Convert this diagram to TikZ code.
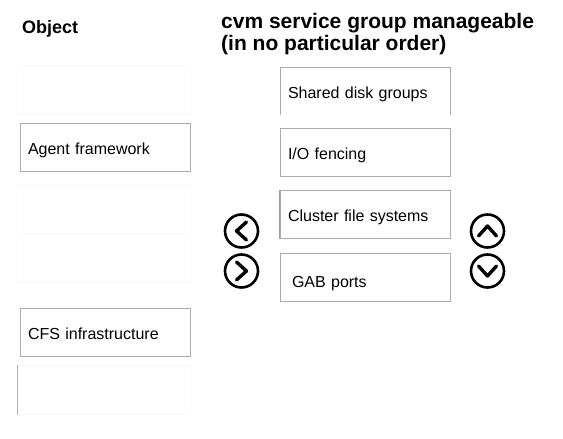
\documentclass[tikz,border=0pt]{standalone}
\usepackage{fontspec}
\setmainfont{Liberation Sans}
\usetikzlibrary{positioning}

\begin{document}
\begin{tikzpicture}[x=1pt,y=-1pt]
                      \tikzstyle{slot}=[draw=gray!65,minimum width=170pt,minimum height=48pt,text width=154pt,inner xsep=8pt,inner ysep=0pt,align=left,text height=14pt,text depth=0pt,font=\fontsize{16}{19}\selectfont]
                      \tikzstyle{ghost}=[draw=black!2,minimum width=173pt,minimum height=49pt,inner sep=0pt]
                      \tikzstyle{btn}=[circle,draw=black,line width=2.6pt,minimum size=33pt,inner sep=0pt]
                      \tikzstyle{chev}=[line width=3.4pt,line cap=round,line join=round]
                      \useasboundingbox (0,0) rectangle (563,439);
                      % headings
                      \node[anchor=base west,inner sep=0pt,font=\bfseries\fontsize{18}{21}\selectfont] (obj) at (22,33) {Object};
                      \node[anchor=base west,inner sep=0pt,font=\bfseries\fontsize{21}{22}\selectfont] (head1) at (221,28) {cvm service group manageable};
                      \node[anchor=base west,inner sep=0pt,font=\bfseries\fontsize{21}{22}\selectfont] (head2) at (221,50) {(in no particular order)};
                      % left column
                      \node[ghost] (g1) at (103.5,90) {};
                      \node[slot] (agent) at (105,147) {Agent framework};
                      \node[ghost] (g2) at (103.5,209) {};
                      \node[ghost] (g3) at (103.5,258) {};
                      \node[slot] (cfs) at (105,332) {CFS infrastructure};
                      \node[ghost] (g4) at (103.5,390) {};
                      \draw[gray!60] (g4.north west) -- (g4.south west);
                      % right column
                      \node[slot,draw=none] (shared) at (365,91) {Shared disk groups};
                      \draw[gray!65] (shared.south west) -- (shared.north west) -- (shared.north east) -- (shared.south east);
                      \node[slot] (fence) at (365,152) {I/O fencing};
                      \node[slot] (cluster) at (365,214.5) {Cluster file systems};
                      \draw[gray!75,line width=1pt] (cluster.north west) -- (cluster.south west);
                      \node[slot] (gab) at (365,277) {\hspace*{4pt}\raisebox{-3pt}{GAB ports}};
                      % buttons
                      \node[btn] (left) at (241.5,231) {};
                      \node[btn] (right) at (241.5,271) {};
                      \node[btn] (up) at (487.5,231) {};
                      \node[btn] (down) at (487.5,271) {};
                      \draw[chev] ([shift={(5,-9)}]left.center) -- ([shift={(-5,0)}]left.center) -- ([shift={(5,9)}]left.center);
                      \draw[chev] ([shift={(-5,-9)}]right.center) -- ([shift={(5,0)}]right.center) -- ([shift={(-5,9)}]right.center);
                      \draw[chev] ([shift={(-9,5)}]up.center) -- ([shift={(0,-5)}]up.center) -- ([shift={(9,5)}]up.center);
                      \draw[chev] ([shift={(-9,-5)}]down.center) -- ([shift={(0,5)}]down.center) -- ([shift={(9,-5)}]down.center);
                  \end{tikzpicture}
\end{document}
